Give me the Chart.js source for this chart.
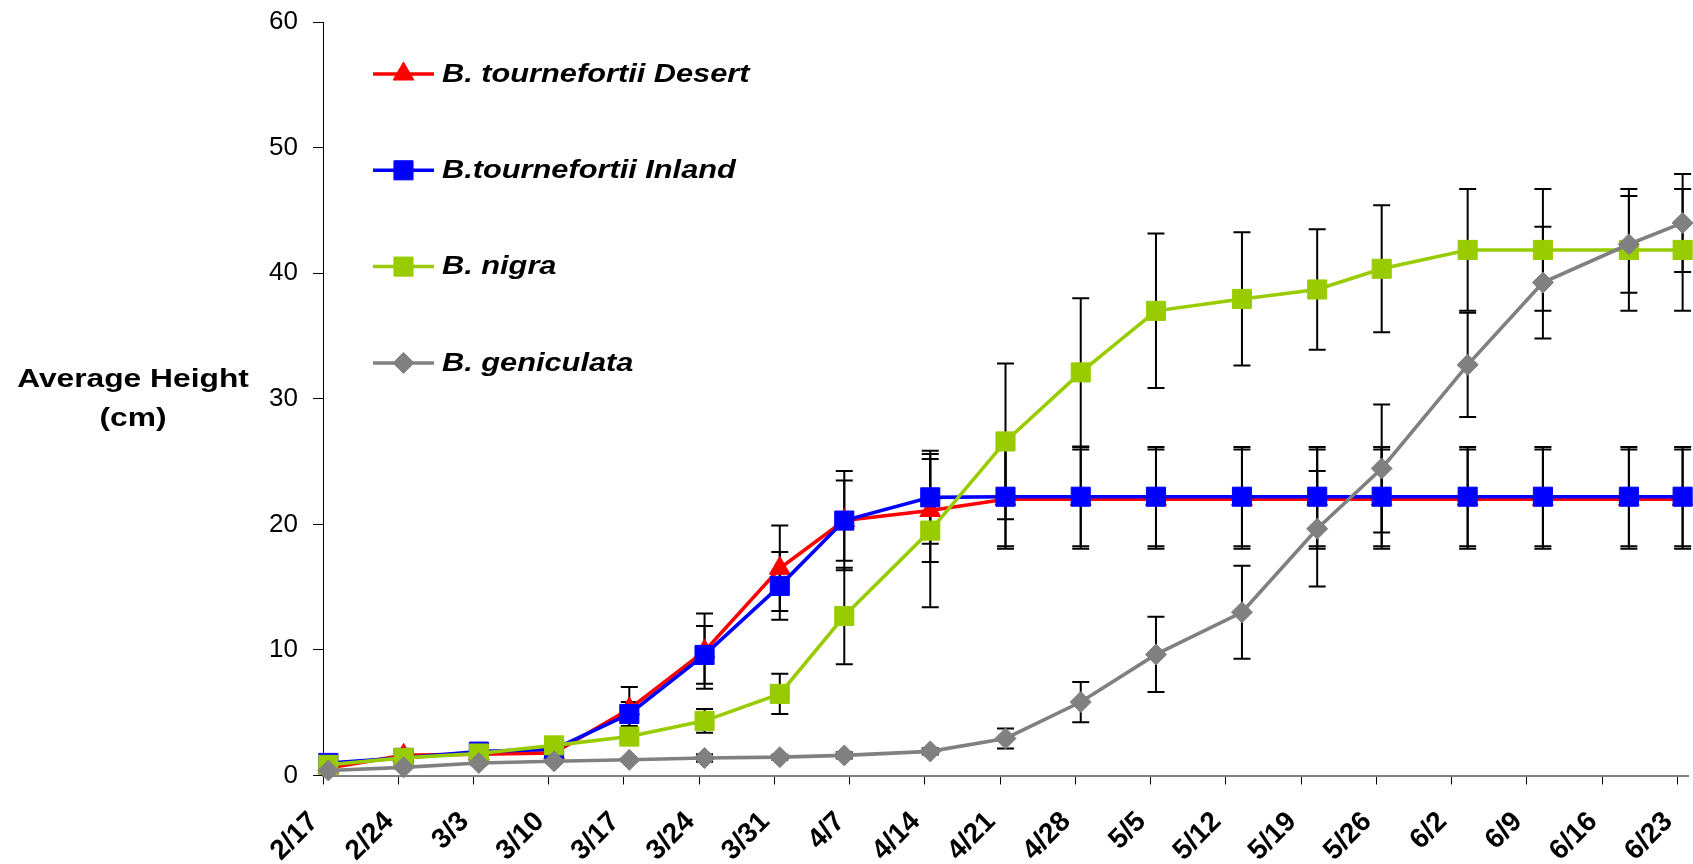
<!DOCTYPE html>
<html>
<head>
<meta charset="utf-8">
<title>Average Height of Brassica species</title>
<script src="https://cdn.jsdelivr.net/npm/chart.js@4.4.1/dist/chart.umd.min.js"></script>
<style>
  html, body { margin: 0; padding: 0; background: #fff; }
  #wrap { width: 1693px; height: 864px; position: relative; }
</style>
</head>
<body>
<div id="wrap"><canvas id="chart" width="1693" height="864"></canvas></div>
<script>
// Weekly axis labels
const tickDates = ['2/17','2/24','3/3','3/10','3/17','3/24','3/31','4/7','4/14','4/21','4/28',
                   '5/5','5/12','5/19','5/26','6/2','6/9','6/16','6/23'];
// Measurement dates
const sampleDates = ['2/17','2/24','3/3','3/10','3/17','3/24','3/31','4/6','4/14','4/21','4/28',
                     '5/5','5/13','5/20','5/26','6/3','6/10','6/18','6/23'];

const seriesNames = ['B. tournefortii Desert', 'B.tournefortii Inland', 'B. nigra', 'B. geniculata'];

// Average height (cm) and error (±cm) per measurement date
const desertHeight = [0.6, 1.6, 1.7, 1.8, 5.3, 9.9, 16.5, 20.3, 21.1, 22.0, 22.0, 22.0, 22.0, 22.0, 22.0, 22.0, 22.0, 22.0, 22.0];
const desertError  = [0.2, 0.3, 0.3, 0.3, 1.75, 3.0, 3.4, 3.95, 4.1, 3.95, 3.95, 3.95, 3.95, 3.95, 3.95, 3.95, 3.95, 3.95, 3.95];

const inlandHeight = [1.0, 1.4, 1.9, 2.1, 4.9, 9.6, 15.1, 20.3, 22.15, 22.2, 22.2, 22.2, 22.2, 22.2, 22.2, 22.2, 22.2, 22.2, 22.2];
const inlandError  = [0.2, 0.2, 0.2, 0.3, 0.95, 2.3, 2.7, 3.2, 3.7, 3.95, 3.95, 3.95, 3.95, 3.95, 3.95, 3.95, 3.95, 3.95, 3.95];

const nigraHeight  = [0.85, 1.4, 1.75, 2.4, 3.1, 4.35, 6.5, 12.7, 19.5, 26.6, 32.1, 37.0, 37.95, 38.7, 40.35, 41.85, 41.85, 41.85, 41.85];
const nigraError   = [0.2, 0.2, 0.2, 0.25, 0.3, 0.95, 1.6, 3.85, 6.1, 6.2, 5.9, 6.15, 5.3, 4.8, 5.05, 4.85, 4.85, 4.85, 4.85];

const geniculataHeight = [0.4, 0.65, 1.0, 1.13, 1.25, 1.39, 1.46, 1.6, 1.92, 2.95, 5.85, 9.64, 13.0, 19.65, 24.45, 32.7, 39.25, 42.3, 44.0];
const geniculataError  = [0.1, 0.1, 0.15, 0.15, 0.15, 0.3, 0.2, 0.25, 0.25, 0.8, 1.6, 3.0, 3.7, 4.6, 5.1, 4.15, 4.45, 3.85, 3.9];

const yTicks = [0, 10, 20, 30, 40, 50, 60];

const FONT = '"Liberation Sans", Arial, Helvetica, sans-serif';

// Days since the first date (non-leap season)
function dayOf(md) {
  const [m, d] = md.split('/').map(Number);
  const t0 = Date.UTC(2009, 1, 17);
  return Math.round((Date.UTC(2009, m - 1, d) - t0) / 86400000);
}
const tickDays = tickDates.map(dayOf);
const lastDay = tickDays[tickDays.length - 1] + 1;

// Each measurement is plotted in the middle of its day
function points(values) {
  return sampleDates.map((d, i) => ({ x: dayOf(d) + 0.5, y: values[i] }));
}

const errors = [desertError, inlandError, nigraError, geniculataError];

// Vertical error bars with caps, drawn beneath the series
const errorBars = {
  id: 'errorBars',
  beforeDatasetsDraw(chart) {
    const { ctx, scales: { x, y } } = chart;
    ctx.save();
    ctx.strokeStyle = '#000';
    ctx.lineWidth = 2;
    chart.data.datasets.forEach((ds) => {
      const err = errors[ds.errIndex];
      ds.data.forEach((p, i) => {
        const e = err[i];
        if (!e) return;
        const px = x.getPixelForValue(p.x);
        const top = y.getPixelForValue(p.y + e);
        const bot = y.getPixelForValue(Math.max(0, p.y - e));
        ctx.beginPath();
        ctx.moveTo(px, top); ctx.lineTo(px, bot);
        ctx.moveTo(px - 8.5, top); ctx.lineTo(px + 8.5, top);
        ctx.moveTo(px - 8.5, bot); ctx.lineTo(px + 8.5, bot);
        ctx.stroke();
      });
    });
    ctx.restore();
  }
};

// Horizontal y-axis title and the in-plot legend
const annotations = {
  id: 'annotations',
  afterDraw(chart) {
    const { ctx, chartArea } = chart;
    ctx.save();
    ctx.fillStyle = '#000';
    ctx.textAlign = 'center';
    ctx.textBaseline = 'alphabetic';
    ctx.font = 'bold 25px ' + FONT;
    [['Average Height', 387], ['(cm)', 426]].forEach(([t, by]) => {
      ctx.save();
      ctx.translate(133, by);
      ctx.scale(1.27, 1);
      ctx.fillText(t, 0, 0);
      ctx.restore();
    });

    [0, 1, 2, 3].forEach((k, i) => {
      const ds = chart.data.datasets.find(d => d.errIndex === k);
      const yy = chartArea.top + 52 + i * 96.3;
      const x0 = chartArea.left + 50, x1 = chartArea.left + 111;
      ctx.strokeStyle = ds.borderColor;
      ctx.lineWidth = 3.5;
      ctx.beginPath(); ctx.moveTo(x0, yy); ctx.lineTo(x1, yy); ctx.stroke();
      ctx.fillStyle = ds.pointBackgroundColor;
      ctx.strokeStyle = ds.pointBorderColor;
      ctx.lineWidth = 1;
      Chart.helpers.drawPoint(ctx, { pointStyle: ds.pointStyle, radius: ds.pointRadius, borderWidth: 1, rotation: 0 },
        (x0 + x1) / 2, yy);
      ctx.fillStyle = '#000';
      ctx.textAlign = 'left';
      ctx.textBaseline = 'middle';
      ctx.font = 'italic bold 25px ' + FONT;
      ctx.save();
      ctx.translate(chartArea.left + 119, yy + 1);
      ctx.scale(1.23, 1);
      ctx.fillText(seriesNames[k], 0, 0);
      ctx.restore();
    });
    ctx.restore();
  }
};

function series(idx, values, color, style, radius, order) {
  return {
    label: seriesNames[idx],
    errIndex: idx,
    data: points(values),
    borderColor: color,
    backgroundColor: color,
    pointBackgroundColor: color,
    pointBorderColor: color,
    borderWidth: 3.6,
    pointStyle: style,
    pointRadius: radius,
    pointBorderWidth: 1,
    pointHoverRadius: radius,
    tension: 0,
    clip: false,
    order: order
  };
}

new Chart(document.getElementById('chart'), {
  type: 'line',
  data: {
    datasets: [
      series(0, desertHeight, '#FF0000', 'triangle', 12, 4),
      series(1, inlandHeight, '#0000FF', 'rect', 13.5, 3),
      series(2, nigraHeight, '#99CC00', 'rect', 13.5, 2),
      series(3, geniculataHeight, '#808080', 'rectRot', 10.5, 1)
    ]
  },
  options: {
    responsive: false,
    animation: false,
    layout: { autoPadding: false, padding: { left: 0, right: 5, top: 22, bottom: 0 } },
    plugins: { legend: { display: false }, tooltip: { enabled: false } },
    scales: {
      x: {
        type: 'linear',
        min: 0,
        max: lastDay,
        afterBuildTicks: (s) => { s.ticks = tickDays.map(v => ({ value: v })); },
        afterFit: (s) => { s.height = 88.5; s.paddingLeft = 0; s.paddingRight = 0; },
        ticks: {
          autoSkip: false,
          minRotation: 45,
          maxRotation: 45,
          padding: 21,
          labelOffset: -9,
          color: '#000',
          font: { family: FONT, weight: 'bold', size: 28 },
          callback: (v, i) => tickDates[i]
        },
        grid: { drawOnChartArea: false, drawTicks: true, tickLength: 9, tickColor: '#000', tickWidth: 1 },
        border: { color: '#808080', width: 2 }
      },
      y: {
        min: 0,
        max: 60,
        afterBuildTicks: (s) => { s.ticks = yTicks.map(v => ({ value: v })); },
        afterFit: (s) => { s.width = 323; s.paddingTop = 0; s.paddingBottom = 0; },
        ticks: {
          padding: 15,
          color: '#000',
          font: { family: FONT, size: 26 }
        },
        grid: { drawOnChartArea: false, drawTicks: true, tickLength: 10, tickColor: '#000', tickWidth: 1 },
        border: { color: '#000', width: 1 }
      }
    }
  },
  plugins: [errorBars, annotations]
});
</script>
</body>
</html>
